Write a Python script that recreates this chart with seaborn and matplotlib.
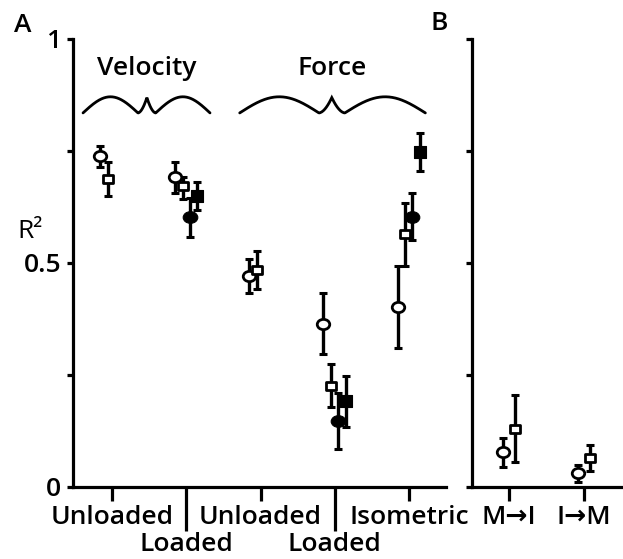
import numpy as np
import pandas as pd
import matplotlib
matplotlib.use("Agg")
import matplotlib.pyplot as plt
from matplotlib.path import Path
from matplotlib.transforms import Affine2D
import seaborn as sns

# ---------------- data ----------------
cats_a = ["Unloaded", "Loaded", "Unloaded", "Loaded", "Isometric"]
major_a = ["Unloaded", "Unloaded", "Isometric"]
minor_a = ["Loaded", "Loaded"]
cats_b = ["M\u2192I", "I\u2192M"]

open_circle = [0.739, 0.692, 0.471, 0.364, 0.402]
open_circle_lo = [0.714, 0.657, 0.433, 0.297, 0.310]
open_circle_hi = [0.761, 0.725, 0.509, 0.433, 0.493]

open_square = [0.688, 0.672, 0.484, 0.225, 0.565]
open_square_lo = [0.650, 0.643, 0.442, 0.179, 0.493]
open_square_hi = [0.725, 0.692, 0.527, 0.275, 0.634]

filled_circle = [np.nan, 0.602, np.nan, 0.147, 0.603]
filled_circle_lo = [np.nan, 0.558, np.nan, 0.085, 0.551]
filled_circle_hi = [np.nan, 0.645, np.nan, 0.210, 0.656]

filled_square = [np.nan, 0.650, np.nan, 0.192, 0.748]
filled_square_lo = [np.nan, 0.618, np.nan, 0.134, 0.705]
filled_square_hi = [np.nan, 0.680, np.nan, 0.248, 0.790]

b_circle = [0.078, 0.031]
b_circle_lo = [0.045, 0.011]
b_circle_hi = [0.110, 0.049]
b_square = [0.130, 0.065]
b_square_lo = [0.056, 0.036]
b_square_hi = [0.205, 0.094]

# ---------------- style ----------------
sns.set_theme(style="ticks")
FONT = ["Open Sans", "DejaVu Sans"]
plt.rcParams["font.family"] = FONT
plt.rcParams["font.weight"] = "semibold"
plt.rcParams["text.color"] = "black"
plt.rcParams["axes.labelcolor"] = "black"
plt.rcParams["xtick.color"] = "black"
plt.rcParams["ytick.color"] = "black"
FS = 19

W, H = 623, 559
fig = plt.figure(figsize=(W / 100, H / 100), dpi=100)

def px_axes(x0, x1, y_top, y_bot):
    return fig.add_axes([x0 / W, 1 - y_bot / H, (x1 - x0) / W, (y_bot - y_top) / H])

axA = px_axes(73, 446, 39, 487)
axB = px_axes(472, 623, 39, 487)

def ellipse_marker(aspect):
    return Path.unit_circle().transformed(Affine2D().scale(1.0, aspect))

def rect_marker(aspect):
    verts = [(-1, -aspect), (1, -aspect), (1, aspect), (-1, aspect), (-1, -aspect)]
    return Path(verts, [Path.MOVETO, Path.LINETO, Path.LINETO, Path.LINETO, Path.CLOSEPOLY])

styles = {
    "oc": dict(marker=ellipse_marker(0.82), ms=9.0, mfc="white", mew=2.0),
    "os": dict(marker=rect_marker(0.8), ms=7.0, mfc="white", mew=2.0),
    "fc": dict(marker=ellipse_marker(0.8), ms=10.5, mfc="black", mew=0.8),
    "fs": dict(marker=rect_marker(1.0), ms=8.4, mfc="black", mew=0.8),
}

def draw(ax, xpos, y, lo, hi, key):
    y = np.asarray(y, float)
    lo = np.asarray(lo, float)
    hi = np.asarray(hi, float)
    m = ~np.isnan(y)
    ax.errorbar(np.asarray(xpos)[m], y[m], yerr=[y[m] - lo[m], hi[m] - y[m]],
                fmt="none", ecolor="black", elinewidth=2.4, capsize=2.8,
                capthick=2.2, zorder=3)
    ax.plot(np.asarray(xpos)[m], y[m], linestyle="none", mec="black",
            zorder=4, **styles[key])

xa = np.arange(len(cats_a))
offs = [-0.155, -0.05, 0.045, 0.15]
draw(axA, xa + offs[0], open_circle, open_circle_lo, open_circle_hi, "oc")
draw(axA, xa + offs[1], open_square, open_square_lo, open_square_hi, "os")
draw(axA, xa + offs[2], filled_circle, filled_circle_lo, filled_circle_hi, "fc")
draw(axA, xa + offs[3], filled_square, filled_square_lo, filled_square_hi, "fs")

xb = np.arange(len(cats_b))
draw(axB, xb - 0.085, b_circle, b_circle_lo, b_circle_hi, "oc")
draw(axB, xb + 0.085, b_square, b_square_lo, b_square_hi, "os")

# ---------------- axes ----------------
LW = 2.3
for ax in (axA, axB):
    sns.despine(ax=ax)
    ax.set_facecolor("none")
    ax.set_ylim(0, 1)
    ax.set_yticks([0, 0.25, 0.5, 0.75, 1])
    for s in ("left", "bottom"):
        ax.spines[s].set_linewidth(LW)
        ax.spines[s].set_color("black")
    ax.tick_params(axis="y", which="major", length=4.5, width=LW, color="black",
                   labelsize=FS, pad=4, labelcolor="black")
    ax.tick_params(axis="x", which="major", length=10, width=LW, color="black",
                   labelsize=FS, pad=3, labelcolor="black")
    ax.grid(False)

axA.set_xlim(-0.525, 4.498)
axA.set_yticklabels(["0", "", "0.5", "", "1"])
axA.set_xticks([0, 2, 4])
axA.set_xticklabels(major_a)
axA.set_xticks([1, 3], minor=True)
axA.set_xticklabels(minor_a, minor=True)
axA.tick_params(axis="x", which="minor", length=32, width=LW, color="black",
                labelsize=FS, pad=0.3, labelcolor="black")

axB.set_xlim(-0.493, 1.52)
axB.set_xticks(xb)
axB.set_xticklabels(cats_b)
axB.set_yticklabels([])

axA.set_ylabel("R\u00b2", rotation=0, fontsize=FS, ha="center", va="center",
               color="black")
axA.yaxis.set_label_coords(-0.115, 0.571)

# ---------------- braces & titles ----------------
def brace(ax, x0, x1, xc, y_base, h):
    def half(a, b, n=120):
        u = np.linspace(0, 1, n)
        y = np.where(u < 0.86, np.sin(np.pi * u / 0.86),
                     0.0 + 0.95 * ((u - 0.86) / 0.14) ** 1.8)
        return a + (b - a) * u, y
    xl, yl = half(x0, xc)
    xr, yr = half(x1, xc)
    xs = np.concatenate([xl, xr[::-1]])
    ys = np.concatenate([yl, yr[::-1]])
    ax.plot(xs, y_base + h * ys, color="black", lw=2.0, solid_capstyle="round",
            solid_joinstyle="miter", clip_on=False, zorder=2)

brace(axA, -0.39, 1.32, 0.47, 0.835, 0.036)
brace(axA, 1.72, 4.22, 2.96, 0.835, 0.036)
axA.text(0.47, 0.935, "Velocity", ha="center", va="center", fontsize=FS)
axA.text(2.96, 0.935, "Force", ha="center", va="center", fontsize=FS)

fig.text(23 / W, 1 - 26 / H, "A", ha="center", va="center", fontsize=FS)
fig.text(439 / W, 1 - 23 / H, "B", ha="center", va="center", fontsize=FS)

fig.savefig("out.png", dpi=100, facecolor="white")
